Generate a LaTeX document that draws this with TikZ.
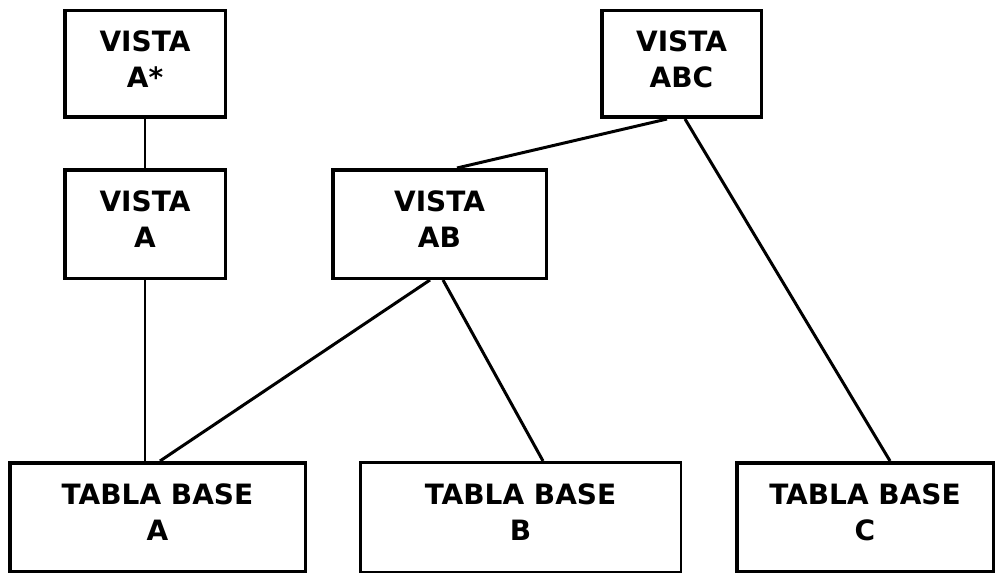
\documentclass[tikz,border=0pt]{standalone}
\usepackage{fontspec}
\setmainfont{DejaVu Sans}
\begin{document}
\begin{tikzpicture}[x=1pt,y=1pt,
  box/.style={draw, line width=3.5pt, rectangle, align=center,
    font=\bfseries\fontsize{28}{36}\selectfont, text depth=9pt, inner sep=0pt},
  thinbox/.style={box, line width=2.5pt},
  link/.style={line width=3pt},
  thinlink/.style={line width=1.8pt}]
\useasboundingbox (0,0) rectangle (996,-575);

% views
\node[box, minimum width=160.5pt, minimum height=106.5pt] (vastar) at (145,-64) {VISTA\\A*};
\node[box, minimum width=160.5pt, minimum height=108.5pt] (va) at (145,-224) {VISTA\\A};
\node[box, minimum width=213.5pt, minimum height=108.5pt] (vab) at (439.5,-224) {VISTA\\AB};
\node[box, minimum width=159.5pt, minimum height=106.5pt] (vabc) at (681.5,-64) {VISTA\\ABC};

% base tables
\node[box, minimum width=295.5pt, minimum height=108.5pt] (tba) at (157.5,-517) {TABLA BASE\\A};
\node[thinbox, minimum width=320.5pt, minimum height=109.5pt] (tbb) at (520.5,-517) {TABLA BASE\\B};
\node[box, minimum width=256.5pt, minimum height=108.5pt] (tbc) at (865,-517) {TABLA BASE\\C};

% dependencies
\draw[thinlink] (vastar.south) -- (va.north);
\draw[thinlink] (va.south) -- (va.south |- tba.north);
\draw[link] ([xshift=-14.5pt]vabc.south) -- ([xshift=17.5pt]vab.north);
\draw[link] ([xshift=3.5pt]vabc.south) -- ([xshift=25pt]tbc.north);
\draw[link] ([xshift=-9.5pt]vab.south) -- ([xshift=2.5pt]tba.north);
\draw[link] ([xshift=3.5pt]vab.south) -- ([xshift=22.5pt]tbb.north);
\end{tikzpicture}
\end{document}
